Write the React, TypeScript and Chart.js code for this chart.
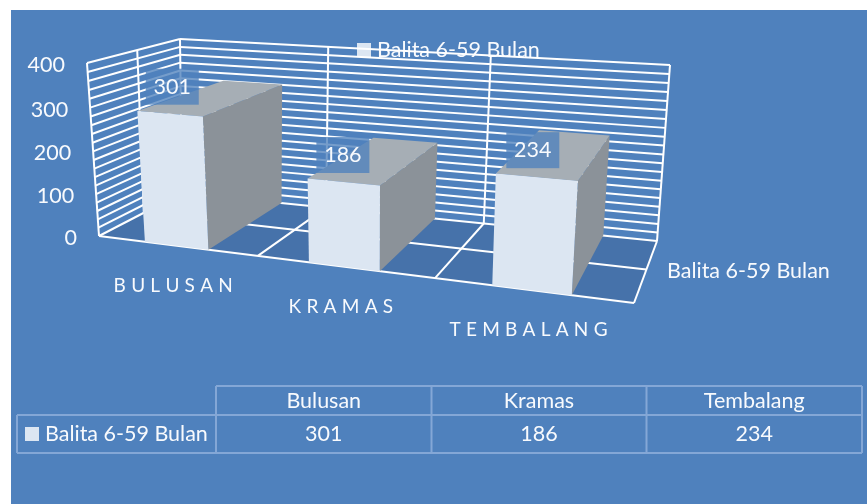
import React, { useEffect, useRef } from "react";
import { Chart, registerables } from "chart.js";

Chart.register(...registerables);

const categories = ["Bulusan", "Kramas", "Tembalang"];
const axisLabels = ["B U L U S A N", "K R A M A S", "T E M B A L A N G"];
const seriesName = "Balita 6-59 Bulan";
const values = [301, 186, 234];
const axisMax = 400;
const gridStep = 20;
const labelStep = 100;

type Pt = [number, number];
// projection frame of the 3D box: bottom-left, bottom-right, top-right, top-left
const FRONT_FRAME: Pt[] = [[99, 236], [634, 303], [648, 100], [87, 63]];
const BACK_FRAME: Pt[] = [[182, 193], [657, 241], [670, 65], [180, 39]];
const MID_DEPTH = 0.54;

const FONT = "Lato, sans-serif";
const TEXT = "#f8fafd";
const BG = "#4f81bd";
const FLOOR = "#4672aa";
const FRONT = "#dce6f2";
const SIDE = "#8b9299";
const TOP = "#a6aeb5";
const TABLE_LINE = "#84a7d6";

function homography(q: Pt[]) {
  const [[x0, y0], [x1, y1], [x2, y2], [x3, y3]] = q;
  const dx1 = x1 - x2, dx2 = x3 - x2, dx3 = x0 - x1 + x2 - x3;
  const dy1 = y1 - y2, dy2 = y3 - y2, dy3 = y0 - y1 + y2 - y3;
  const den = dx1 * dy2 - dx2 * dy1;
  const g = (dx3 * dy2 - dx2 * dy3) / den;
  const h = (dx1 * dy3 - dx3 * dy1) / den;
  const a = x1 - x0 + g * x1, b = x3 - x0 + h * x3;
  const d = y1 - y0 + g * y1, e = y3 - y0 + h * y3;
  return (u: number, v: number): Pt => {
    const w = g * u + h * v + 1;
    return [(a * u + b * v + x0) / w, (d * u + e * v + y0) / w];
  };
}
const front = homography(FRONT_FRAME);
const back = homography(BACK_FRAME);
const lerp = (p: Pt, q: Pt, t: number): Pt => [p[0] + (q[0] - p[0]) * t, p[1] + (q[1] - p[1]) * t];

function poly(ctx: CanvasRenderingContext2D, pts: Pt[], fill: string) {
  ctx.beginPath();
  pts.forEach((p, i) => (i ? ctx.lineTo(p[0], p[1]) : ctx.moveTo(p[0], p[1])));
  ctx.closePath();
  ctx.fillStyle = fill;
  ctx.fill();
}
function seg(ctx: CanvasRenderingContext2D, p: Pt, q: Pt) {
  ctx.beginPath();
  ctx.moveTo(p[0], p[1]);
  ctx.lineTo(q[0], q[1]);
  ctx.stroke();
}
function text(ctx: CanvasRenderingContext2D, s: string, x: number, y: number, align: CanvasTextAlign = "center") {
  ctx.textAlign = align;
  ctx.textBaseline = "middle";
  ctx.fillStyle = TEXT;
  ctx.fillText(s, x, y);
}

const box3d = {
  id: "box3d",
  beforeDraw(chart: any) {
    const { ctx, width, height } = chart;
    ctx.save();
    ctx.fillStyle = "#ffffff";
    ctx.fillRect(0, 0, width, height);
    ctx.fillStyle = BG;
    ctx.fillRect(11, 10, width - 11, height - 10);
    ctx.restore();
  },
  beforeDatasetsDraw(chart: any) {
    const { ctx, chartArea: ca, scales } = chart;
    const U = (px: number) => (px - ca.left) / (ca.right - ca.left);
    const V = (py: number) => (ca.bottom - py) / (ca.bottom - ca.top);
    const y = scales.y;
    ctx.save();
    ctx.font = `21.5px ${FONT}`;

    // legend sits underneath the wall grid
    ctx.fillStyle = FRONT;
    ctx.fillRect(357, 43, 14, 14);
    text(ctx, seriesName, 377, 50, "left");

    // floor
    poly(ctx, [front(0, 0), front(1, 0), back(1, 0), back(0, 0)], FLOOR);

    // grid
    ctx.strokeStyle = "#ffffff";
    ctx.lineWidth = 2;
    ctx.lineJoin = "round";
    for (const t of y.ticks) {
      const v = V(y.getPixelForValue(t.value));
      seg(ctx, front(0, v), back(0, v));
      seg(ctx, back(0, v), back(1, v));
    }
    seg(ctx, front(0, 0), front(0, 1));
    seg(ctx, back(0, 0), back(0, 1));
    seg(ctx, back(1, 0), back(1, 1));
    seg(ctx, lerp(front(0, 0), back(0, 0), MID_DEPTH), lerp(front(0, 1), back(0, 1), MID_DEPTH));
    seg(ctx, lerp(front(0, 0), back(0, 0), MID_DEPTH), lerp(front(1, 0), back(1, 0), MID_DEPTH));
    seg(ctx, front(1, 0), back(1, 0));
    seg(ctx, front(0, 0), front(1, 0));
    categories.forEach((_, i) => {
      if (i === 0) return;
      const u = i / categories.length;
      seg(ctx, back(u, 1), back(u, 0));
      seg(ctx, back(u, 0), front(u, 0));
    });

    // y labels
    for (const t of y.ticks) {
      if (t.value % labelStep !== 0) continue;
      const p = front(0, V(y.getPixelForValue(t.value)));
      text(ctx, String(t.value), p[0] - 22, p[1] + 2, "right");
    }

    // bars
    const bars = chart.getDatasetMeta(0).data;
    bars.forEach((b: any) => {
      const ul = U(b.x - b.width / 2), ur = U(b.x + b.width / 2);
      const vt = V(b.y), vb = V(b.base);
      poly(ctx, [front(ur, vb), back(ur, vb), back(ur, vt), front(ur, vt)], SIDE);
      poly(ctx, [front(ul, vt), front(ur, vt), back(ur, vt), back(ul, vt)], TOP);
      poly(ctx, [front(ul, vb), front(ur, vb), front(ur, vt), front(ul, vt)], FRONT);
    });

    // value labels
    bars.forEach((b: any, i: number) => {
      const u = U(b.x);
      const p = front(u, V(b.y));
      const cx = p[0] + 4 - 9 * u;
      const cy = p[1] - 27;
      ctx.fillStyle = "rgba(79,129,189,0.78)";
      ctx.fillRect(cx - 26.5, cy - 18, 53, 36);
      text(ctx, String(values[i]), cx, cy);
    });

    // category labels on the front edge
    ctx.letterSpacing = "0.2px";
    ctx.font = `19px ${FONT}`;
    axisLabels.forEach((s, i) => {
      const p = front((i + 0.5) / axisLabels.length, 0);
      text(ctx, s, p[0] - 3, p[1] + 40);
    });
    ctx.letterSpacing = "0px";
    ctx.font = `21.5px ${FONT}`;
    text(ctx, seriesName, 667, 271, "left");

    // data table
    const cols = [216, 431.5, 646.5, 862];
    const rows = [386, 415, 453];
    ctx.strokeStyle = TABLE_LINE;
    ctx.lineWidth = 2;
    seg(ctx, [cols[0], rows[0]], [cols[3], rows[0]]);
    seg(ctx, [17, rows[1]], [cols[3], rows[1]]);
    seg(ctx, [17, rows[2]], [cols[3], rows[2]]);
    seg(ctx, [17, rows[1]], [17, rows[2]]);
    cols.forEach((c) => seg(ctx, [c, rows[0]], [c, rows[2]]));
    categories.forEach((c, i) => {
      const cx = (cols[i] + cols[i + 1]) / 2;
      text(ctx, c, cx, 401);
      text(ctx, String(values[i]), cx, 434);
    });
    ctx.fillStyle = FRONT;
    ctx.fillRect(25, 427, 14, 14);
    text(ctx, seriesName, 45, 434, "left");
    ctx.restore();
    return false;
  },
};

export default function App() {
  const ref = useRef<HTMLCanvasElement>(null);
  useEffect(() => {
    const chart = new Chart(ref.current!, {
      type: "bar",
      data: {
        labels: categories,
        datasets: [{ label: seriesName, data: values, backgroundColor: FRONT, barPercentage: 0.4, categoryPercentage: 1 }],
      },
      options: {
        animation: false,
        responsive: false,
        layout: { padding: 0 },
        plugins: { legend: { display: false }, tooltip: { enabled: false } },
        scales: {
          x: { display: false },
          y: { display: false, min: 0, max: axisMax, ticks: { stepSize: gridStep } },
        },
      },
      plugins: [box3d],
    } as any);
    return () => chart.destroy();
  }, []);
  return (
    <div style={{ position: "absolute", left: 0, top: 0, width: 867, height: 504 }}>
      <canvas ref={ref} width={867} height={504} style={{ display: "block" }} />
    </div>
  );
}
